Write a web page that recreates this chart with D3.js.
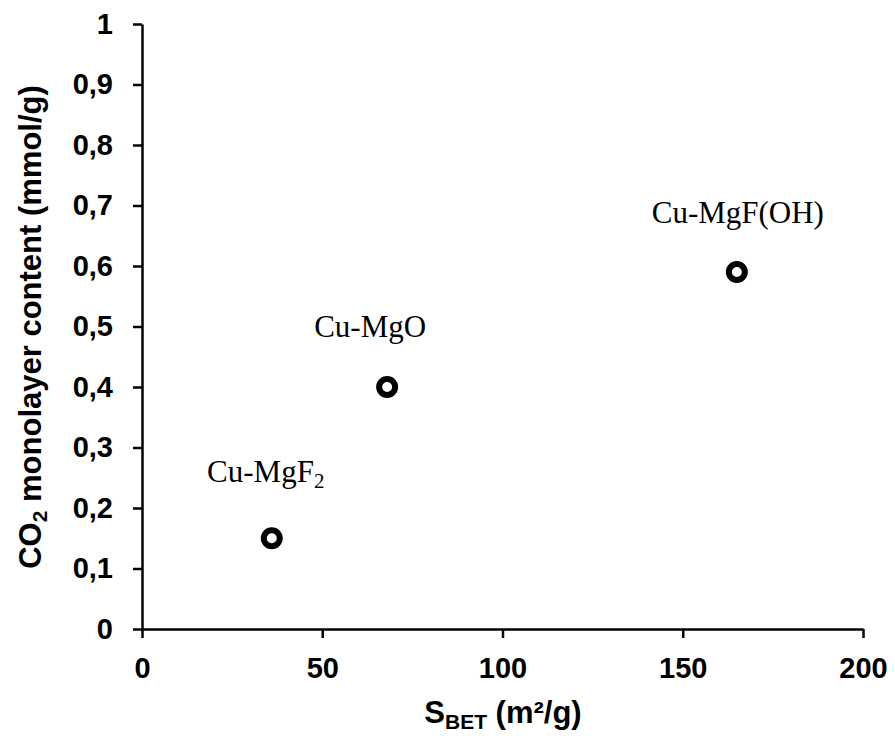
<!DOCTYPE html>
<html><head><meta charset="utf-8">
<script src="https://cdn.jsdelivr.net/npm/d3@7"></script>
<style>body{margin:0;background:#fff;} svg{display:block;}</style>
</head><body>
<svg id="c" width="895" height="736"></svg>
<script>
const names = ["Cu-MgF2", "Cu-MgO", "Cu-MgF(OH)"];
const sbet = [36, 68, 165];
const co2 = [0.15, 0.40, 0.59];
const xTicks = [0, 50, 100, 150, 200];
const yTicks = [0, 0.1, 0.2, 0.3, 0.4, 0.5, 0.6, 0.7, 0.8, 0.9, 1];

const svg = d3.select("#c");
const x = d3.scaleLinear().domain([0, 200]).range([142, 863]);
const y = d3.scaleLinear().domain([0, 1]).range([629, 24]);
const fmt = d => d === 0 ? "0" : d === 1 ? "1" : d3.format(".1f")(d).replace(".", ",");
const tf = "Liberation Sans, Arial, sans-serif";

const gx = svg.append("g").attr("transform", "translate(0,629)")
  .call(d3.axisBottom(x).tickValues(xTicks).tickSize(9).tickSizeOuter(0).tickPadding(19));
const gy = svg.append("g").attr("transform", "translate(142,0)")
  .call(d3.axisLeft(y).tickValues(yTicks).tickFormat(fmt).tickSize(9).tickSizeOuter(0).tickPadding(20));
[gx, gy].forEach(g => {
  g.select(".domain").attr("stroke", "#000").attr("stroke-width", 2.5);
  g.selectAll(".tick line").attr("stroke", "#000").attr("stroke-width", 2.5);
  g.selectAll(".tick text").attr("fill", "#000")
    .style("font-family", tf)
    .style("font-weight", "bold").style("font-size", "29px");
});

svg.selectAll("circle.pt").data(sbet).enter().append("circle").attr("class", "pt")
  .attr("cx", d => x(d)).attr("cy", (d, i) => y(co2[i])).attr("r", 8)
  .attr("fill", "#fff").attr("stroke", "#000").attr("stroke-width", 6);

const lblOff = [[-6, -56], [-17, -50], [1, -49]];
const lbl = svg.selectAll("text.lbl").data(names).enter().append("text").attr("class", "lbl")
  .attr("x", (d, i) => x(sbet[i]) + lblOff[i][0])
  .attr("y", (d, i) => y(co2[i]) + lblOff[i][1])
  .attr("text-anchor", "middle")
  .style("font-family", "Liberation Serif, Times New Roman, serif")
  .style("font-size", "31px").attr("fill", "#000");
lbl.each(function(d) {
  const t = d3.select(this);
  const m = d.match(/^(.*?)(\d+)$/);
  if (m) {
    t.append("tspan").text(m[1]);
    t.append("tspan").attr("dy", "6").style("font-size", "21px").text(m[2]);
  } else t.text(d);
});

const xt = svg.append("text").attr("x", 503).attr("y", 723).attr("text-anchor", "middle")
  .style("font-family", tf).style("font-weight", "bold").style("font-size", "31px");
xt.append("tspan").text("S");
xt.append("tspan").attr("dy", 6).style("font-size", "21px").text("BET");
xt.append("tspan").attr("dy", -6).text(" (m²/g)");

const yt = svg.append("text").attr("transform", "translate(41,327) rotate(-90)").attr("text-anchor", "middle")
  .style("font-family", tf).style("font-weight", "bold").style("font-size", "31px");
yt.append("tspan").text("CO");
yt.append("tspan").attr("dy", 6).style("font-size", "21px").text("2");
yt.append("tspan").attr("dy", -6).text(" monolayer content (mmol/g)");
</script>
</body></html>
